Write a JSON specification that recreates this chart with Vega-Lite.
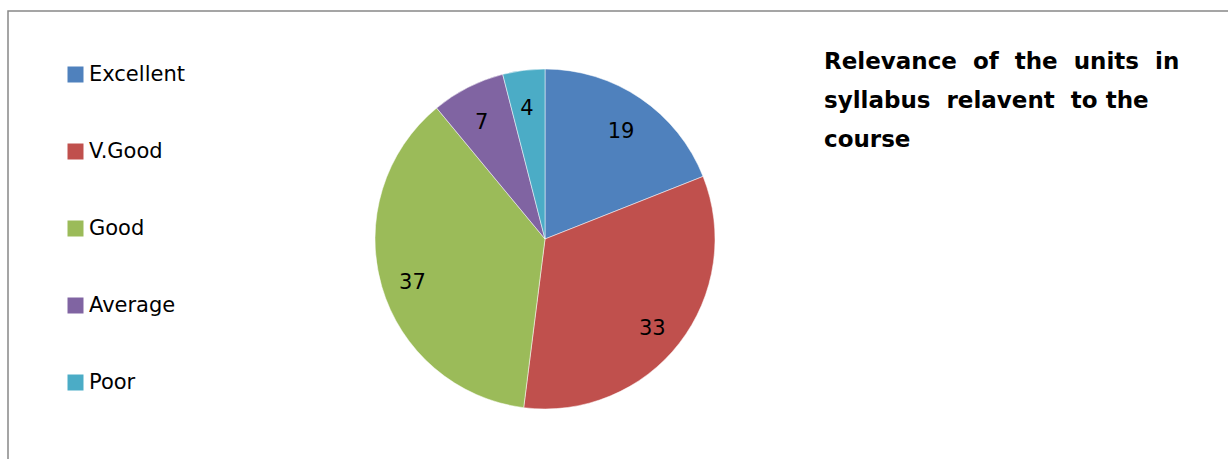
{
  "$schema": "https://vega.github.io/schema/vega-lite/v6.json",
  "width": 1240,
  "height": 460,
  "autosize": {"type": "none"},
  "padding": {"left": 8, "top": 11, "right": 0, "bottom": 0},
  "background": "white",
  "config": {
    "view": {"stroke": "#888888", "strokeWidth": 1.5},
    "font": "DejaVu Sans"
  },
  "title": {
    "text": ["Relevance\u00a0 of\u00a0 the\u00a0 units\u00a0 in", "syllabus\u00a0 relavent\u00a0 to the", "course"],
    "anchor": "start",
    "frame": "group",
    "orient": "top",
    "align": "left",
    "baseline": "top",
    "dx": 816,
    "dy": 145,
    "font": "DejaVu Sans",
    "fontWeight": "bold",
    "fontSize": 23,
    "lineHeight": 39,
    "color": "#000000"
  },
  "data": {
    "values": [
      {"rating": "Excellent", "count": 19, "rank": 1},
      {"rating": "V.Good", "count": 33, "rank": 2},
      {"rating": "Good", "count": 37, "rank": 3},
      {"rating": "Average", "count": 7, "rank": 4},
      {"rating": "Poor", "count": 4, "rank": 5}
    ]
  },
  "encoding": {
    "theta": {"field": "count", "type": "quantitative", "stack": true},
    "order": {"field": "rank", "type": "quantitative"},
    "color": {
      "field": "rating",
      "type": "nominal",
      "sort": ["Excellent", "V.Good", "Good", "Average", "Poor"],
      "scale": {
        "domain": ["Excellent", "V.Good", "Good", "Average", "Poor"],
        "range": ["#4F81BD", "#C0504D", "#9BBB59", "#8064A2", "#4BACC6"]
      },
      "legend": {
        "title": null,
        "orient": "none",
        "legendX": 57,
        "legendY": 53,
        "symbolType": "square",
        "symbolSize": 256,
        "symbolStrokeWidth": 0,
        "labelFont": "DejaVu Sans",
        "labelFontSize": 21,
        "labelColor": "#000000",
        "labelOffset": 3,
        "rowPadding": 55
      }
    },
    "x": {"value": 537},
    "y": {"value": 228}
  },
  "layer": [
    {
      "mark": {"type": "arc", "outerRadius": 170, "stroke": "white", "strokeWidth": 0.5}
    },
    {
      "mark": {"type": "text", "radius": 137, "fontSize": 21, "dy": 6, "dx": -1, "font": "DejaVu Sans", "color": "#000000"},
      "encoding": {
        "text": {"field": "count", "type": "quantitative"},
        "color": {"value": "#000000"}
      }
    }
  ]
}
